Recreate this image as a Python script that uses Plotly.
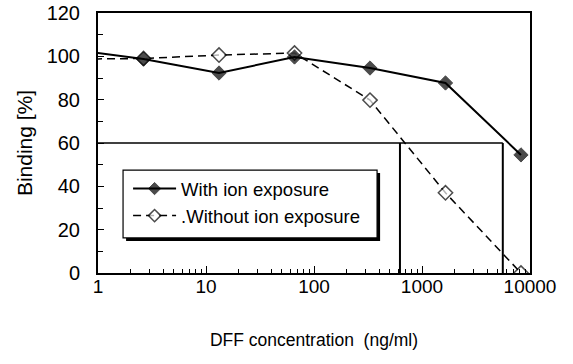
import plotly.graph_objects as go

# Data
conc = [0.528, 2.64, 13.2, 66, 330, 1650, 8250]
with_ion = [103.3, 98.8, 92.3, 99.7, 94.6, 87.7, 54.5]
without_ion = [98.7, 99.0, 100.6, 101.5, 79.8, 37.0, 0.0]
marker_sizes = [0, 11, 11, 11, 11, 11, 11]

threshold = 60
cross_with = 5600
cross_without = 625
x_start = 1

xtick_vals = [1, 10, 100, 1000, 10000]
xtick_text = ["1", "10", "100", "1000", "10000"]
ytick_vals = [0, 20, 40, 60, 80, 100, 120]

FONT = "Liberation Sans, Arial, sans-serif"

fig = go.Figure()

# reference lines
fig.add_trace(go.Scatter(x=[x_start, cross_with], y=[threshold, threshold], mode="lines",
                         line=dict(color="black", width=1.5), showlegend=False, hoverinfo="skip"))
fig.add_trace(go.Scatter(x=[cross_without, cross_without], y=[0, threshold], mode="lines",
                         line=dict(color="black", width=2), showlegend=False, hoverinfo="skip"))
fig.add_trace(go.Scatter(x=[cross_with, cross_with], y=[0, threshold], mode="lines",
                         line=dict(color="black", width=2), showlegend=False, hoverinfo="skip"))

fig.add_trace(go.Scatter(
    x=conc, y=without_ion, mode="lines+markers", name=".Without ion exposure",
    line=dict(color="black", width=1.5, dash="8px,5px"),
    marker=dict(symbol="diamond", size=marker_sizes, color="white",
                line=dict(color="black", width=1.5)),
))
fig.add_trace(go.Scatter(
    x=conc, y=with_ion, mode="lines+markers", name="With ion exposure",
    line=dict(color="black", width=2),
    marker=dict(symbol="diamond", size=marker_sizes, color="black",
                line=dict(color="black", width=1)),
))

# legend box with shadow
lx0, lx1, ly0, ly1 = 0.058, 0.646, 0.135, 0.396
sx, sy = 0.007, 0.0115
fig.add_shape(type="rect", xref="paper", yref="paper",
              x0=lx0 + sx, x1=lx1 + sx, y0=ly0 - sy, y1=ly1 - sy,
              fillcolor="black", line=dict(width=0), layer="above")
fig.add_shape(type="rect", xref="paper", yref="paper",
              x0=lx0, x1=lx1, y0=ly0, y1=ly1,
              fillcolor="white", line=dict(color="black", width=1.2), layer="above")

fig.update_layout(
    width=573, height=364,
    margin=dict(l=98, r=43, t=13, b=91),
    paper_bgcolor="white", plot_bgcolor="white",
    font=dict(family=FONT, color="black"),
    showlegend=True,
    legend=dict(x=0.0696, y=0.396, xanchor="left", yanchor="top",
                bgcolor="rgba(0,0,0,0)", borderwidth=0,
                font=dict(size=18.5, family=FONT), traceorder="reversed",
                tracegroupgap=0, itemwidth=43),
    xaxis=dict(type="log", range=[0, 4], tickvals=xtick_vals, ticktext=xtick_text,
               showline=True, linecolor="black", linewidth=2, mirror=True,
               ticks="inside", ticklen=7, tickcolor="black",
               minor=dict(ticks="inside", ticklen=4, dtick="D1", tickcolor="black"),
               showgrid=False, zeroline=False, automargin=False,
               tickfont=dict(size=19), ticklabelstandoff=-5,
               title=dict(text="DFF concentration  (ng/ml)", font=dict(size=17.5), standoff=38)),
    yaxis=dict(range=[0, 120], tickvals=ytick_vals,
               showline=True, linecolor="black", linewidth=2, mirror=True,
               ticks="inside", ticklen=6, tickcolor="black",
               minor=dict(ticks="inside", ticklen=5, dtick=10, tickcolor="black"),
               showgrid=False, zeroline=False, automargin=False,
               tickfont=dict(size=20), ticklabelstandoff=12,
               title=dict(text="Binding [%]", font=dict(size=21), standoff=8)),
)

fig.write_html("out.html", config={"displayModeBar": False},
               post_script="document.body.style.margin='0';")
